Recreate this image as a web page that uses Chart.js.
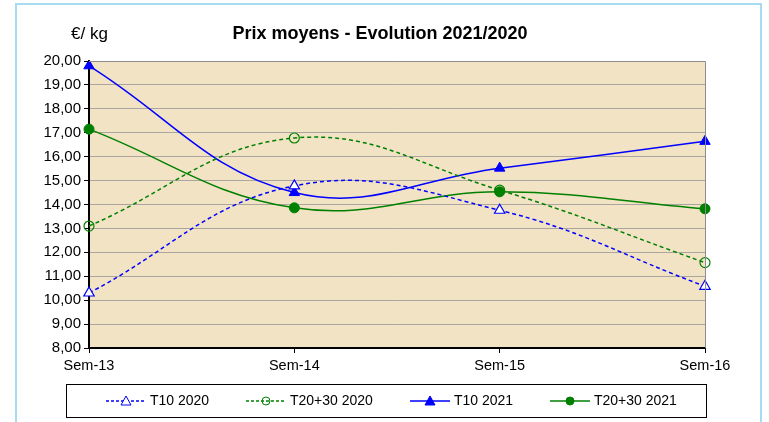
<!DOCTYPE html>
<html>
<head>
<meta charset="utf-8">
<script src="https://cdn.jsdelivr.net/npm/chart.js@4/dist/chart.umd.min.js"></script>
<style>
  html, body { margin: 0; padding: 0; background: #fff; }
  #wrap { position: relative; width: 769px; height: 422px; }
  #frame { position: absolute; left: 15px; top: 3px; width: 747px; height: 430px; border: 2px solid #a6dcf2; box-sizing: border-box; }
  canvas { position: absolute; left: 0; top: 0; }
</style>
</head>
<body>
<div id="wrap">
  <div id="frame"></div>
  <canvas id="prixChart" width="769" height="422"></canvas>
</div>
<script>
// semaines
var weeks = ['Sem-13', 'Sem-14', 'Sem-15', 'Sem-16'];

// prix moyens en €/kg
var t10_2020 = [10.30, 14.78, 13.76, 10.58];
var t2030_2020 = [13.10, 16.78, 14.60, 11.57];
var t10_2021 = [19.80, 14.50, 15.52, 16.64];
var t2030_2021 = [17.15, 13.86, 14.53, 13.82];

var seriesNames = ['T10 2020', 'T20+30 2020', 'T10 2021', 'T20+30 2021'];

var BLUE = '#0000ff';
var GREEN = '#008000';
var FONT = '"Liberation Sans", Arial, sans-serif';

// fond parchemin + bordures de la zone de tracé
var plotBg = {
    id: 'plotBg',
    beforeDraw: function (chart) {
        var a = chart.chartArea, ctx = chart.ctx;
        ctx.save();
        ctx.fillStyle = '#f2e3c4';
        ctx.fillRect(a.left, a.top, a.right - a.left, a.bottom - a.top);
        ctx.restore();
    },
    afterDatasetsDraw: function (chart) {
        var a = chart.chartArea, ctx = chart.ctx;
        ctx.save();
        ctx.strokeStyle = '#8c8c8c';
        ctx.lineWidth = 1;
        ctx.beginPath();
        ctx.moveTo(a.left, a.top + 0.5);
        ctx.lineTo(a.right + 0.5, a.top + 0.5);
        ctx.lineTo(a.right + 0.5, a.bottom);
        ctx.stroke();
        ctx.restore();
    }
};

// titre, unité et légende dessinés à la main (ligne + marqueur comme Excel)
var extras = {
    id: 'extras',
    afterDraw: function (chart) {
        var ctx = chart.ctx;
        ctx.save();
        ctx.fillStyle = '#000';
        ctx.textBaseline = 'middle';
        ctx.font = 'bold 18px ' + FONT;
        ctx.textAlign = 'center';
        ctx.fillText('Prix moyens - Evolution 2021/2020', 380, 34);
        ctx.font = '17px ' + FONT;
        ctx.textAlign = 'left';
        ctx.fillText('€/ kg', 71, 34);

        // cadre de la légende
        ctx.strokeStyle = '#000';
        ctx.lineWidth = 1;
        ctx.strokeRect(66.5, 384.5, 640, 33);

        var starts = [106, 246, 410, 550];
        ctx.font = '14px ' + FONT;
        chart.data.datasets.forEach(function (ds, i) {
            var x = starts[i], y = 401, mx = x + 20;
            ctx.save();
            ctx.strokeStyle = ds.borderColor;
            ctx.lineWidth = 1.5;
            ctx.setLineDash(ds.borderDash ? [3, 2] : []);
            ctx.beginPath();
            ctx.moveTo(x, y);
            ctx.lineTo(x + 40, y);
            ctx.stroke();
            ctx.setLineDash([]);
            ctx.lineWidth = 1;
            ctx.fillStyle = ds.pointBackgroundColor;
            ctx.strokeStyle = ds.pointBorderColor;
            ctx.beginPath();
            if (ds.pointStyle === 'triangle') {
                ctx.moveTo(mx, y - 5);
                ctx.lineTo(mx + 5, y + 4);
                ctx.lineTo(mx - 5, y + 4);
                ctx.closePath();
            } else {
                ctx.arc(mx, y, 4, 0, Math.PI * 2);
            }
            ctx.fill();
            ctx.stroke();
            ctx.restore();
            ctx.fillStyle = '#000';
            ctx.fillText(seriesNames[i], x + 44, y);
        });
        ctx.restore();
    }
};

new Chart(document.getElementById('prixChart').getContext('2d'), {
    type: 'line',
    data: {
        labels: weeks,
        datasets: [{
            label: seriesNames[0],
            data: t10_2020,
            borderColor: BLUE,
            borderWidth: 1.5,
            borderDash: [4, 3],
            pointStyle: 'triangle',
            pointRadius: 6,
            pointBackgroundColor: '#ffffff',
            pointBorderColor: BLUE,
            pointBorderWidth: 1.2
        }, {
            label: seriesNames[1],
            data: t2030_2020,
            borderColor: GREEN,
            borderWidth: 1.5,
            borderDash: [4, 3],
            pointStyle: 'circle',
            pointRadius: 5,
            pointBackgroundColor: 'rgba(0,0,0,0)',
            pointBorderColor: GREEN,
            pointBorderWidth: 1.2
        }, {
            label: seriesNames[2],
            data: t10_2021,
            borderColor: BLUE,
            borderWidth: 1.5,
            pointStyle: 'triangle',
            pointRadius: 6,
            pointBackgroundColor: BLUE,
            pointBorderColor: BLUE,
            pointBorderWidth: 1
        }, {
            label: seriesNames[3],
            data: t2030_2021,
            borderColor: GREEN,
            borderWidth: 1.5,
            pointStyle: 'circle',
            pointRadius: 5,
            pointBackgroundColor: GREEN,
            pointBorderColor: GREEN,
            pointBorderWidth: 1
        }]
    },
    options: {
        responsive: false,
        animation: false,
        layout: { padding: { top: 61, right: 64, bottom: 0, left: 0 } },
        elements: { line: { tension: 0.4, fill: false } },
        plugins: {
            legend: { display: false },
            title: { display: false },
            tooltip: { enabled: false }
        },
        scales: {
            x: {
                offset: false,
                afterFit: function (scale) { scale.height = 74; },
                grid: { drawOnChartArea: false, drawTicks: true, tickLength: 5, color: '#000' },
                border: { color: '#000', width: 2 },
                ticks: {
                    color: '#000',
                    padding: 4,
                    maxRotation: 0,
                    font: { family: FONT, size: 14.5 }
                }
            },
            y: {
                min: 8,
                max: 20,
                afterFit: function (scale) { scale.width = 89; },
                grid: { color: '#aaa59e', tickColor: '#000', tickLength: 5, lineWidth: 1 },
                border: { color: '#000', width: 2 },
                ticks: {
                    stepSize: 1,
                    color: '#000',
                    padding: 3,
                    font: { family: FONT, size: 15 },
                    callback: function (v) { return v.toFixed(2).replace('.', ','); }
                }
            }
        }
    },
    plugins: [plotBg, extras]
});
</script>
</body>
</html>
